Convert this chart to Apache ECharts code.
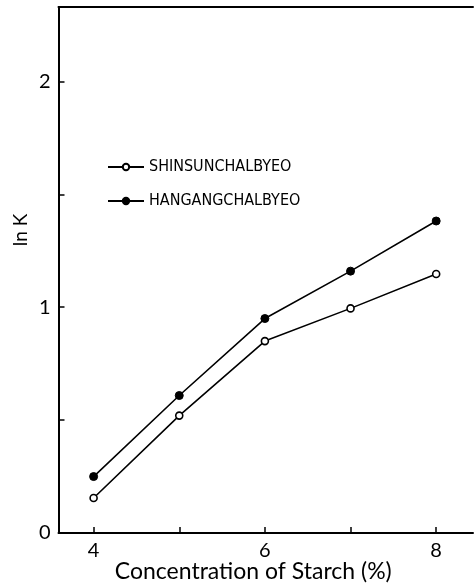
<!DOCTYPE html>
<html><head><meta charset="utf-8">
<script src="https://cdn.jsdelivr.net/npm/echarts@6/dist/echarts.min.js"></script>
<style>html,body{margin:0;padding:0;background:#fff}#c{width:474px;height:587px}</style>
</head><body><div id="c"></div>
<script>
const concentrations = [4, 5, 6, 7, 8];
const shinsun = [0.155, 0.52, 0.85, 0.995, 1.147];
const hangang = [0.25, 0.609, 0.95, 1.16, 1.382];
const seriesNames = ['SHINSUNCHALBYEO', 'HANGANGCHALBYEO'];
const xTicks = [4, 5, 6, 7, 8];
const xLabels = [4, 6, 8];
const yTicks = [0, 0.5, 1, 1.5, 2];
const yLabels = [0, 1, 2];

const chart = echarts.init(document.getElementById('c'));
const axFont = 'Lato, "DejaVu Sans", sans-serif';
const pair = (vals) => concentrations.map((x, i) => [x, vals[i]]);
chart.setOption({
  animation: false,
  backgroundColor: '#fff',
  grid: {left: 58.5, right: 1, top: 7, bottom: 54, containLabel: false, outerBoundsMode: 'none'},
  legend: {
    orient: 'vertical', left: 102, top: 154, itemGap: 18,
    itemWidth: 36, itemHeight: 8,
    textStyle: {fontFamily: '"DejaVu Sans Condensed", "Liberation Sans Narrow", sans-serif', fontSize: 16, color: '#000'},
    data: seriesNames
  },
  xAxis: [{
    type: 'value', min: 3.59, max: 8.43,
    name: 'Concentration of Starch (%)', nameLocation: 'middle', nameGap: 27, nameMoveOverlap: false,
    nameTextStyle: {fontFamily: axFont, fontSize: 23, color: '#000', padding: [0, 25, 0, 0]},
    axisLine: {lineStyle: {color: '#000', width: 2}},
    axisTick: {inside: true, length: 6, customValues: xTicks, lineStyle: {color: '#000', width: 1.5}},
    axisLabel: {customValues: xLabels, fontFamily: axFont, fontSize: 20, color: '#000', margin: 8},
    splitLine: {show: false}
  }, {
    type: 'value', min: 3.59, max: 8.43, position: 'top',
    axisLine: {lineStyle: {color: '#000', width: 2}},
    axisTick: {show: false}, axisLabel: {show: false}, splitLine: {show: false}
  }],
  yAxis: {
    type: 'value', min: 0, max: 2.33,
    name: 'ln K', nameLocation: 'middle', nameGap: 28, nameRotate: 90, nameMoveOverlap: false,
    nameTextStyle: {fontFamily: axFont, fontSize: 19, color: '#000', padding: [0, 0, 0, 80]},
    axisLine: {lineStyle: {color: '#000', width: 2}},
    axisTick: {inside: true, length: 6, customValues: yTicks, lineStyle: {color: '#000', width: 1.5}},
    axisLabel: {customValues: yLabels, fontFamily: axFont, fontSize: 20, color: '#000', margin: 8},
    splitLine: {show: false}
  },
  series: [{
    name: seriesNames[0], type: 'line', data: pair(shinsun),
    symbol: 'circle', symbolSize: 7,
    lineStyle: {color: '#000', width: 1.6},
    itemStyle: {color: '#fff', borderColor: '#000', borderWidth: 1.6}
  }, {
    name: seriesNames[1], type: 'line', data: pair(hangang),
    symbol: 'circle', symbolSize: 8,
    lineStyle: {color: '#000', width: 1.6},
    itemStyle: {color: '#000', borderColor: '#000', borderWidth: 1}
  }]
});
</script></body></html>
